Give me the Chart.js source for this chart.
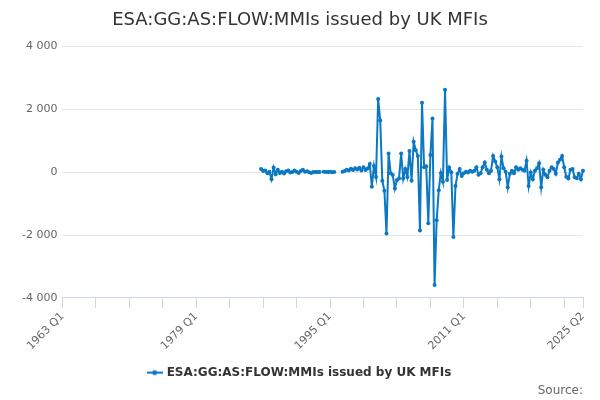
<!DOCTYPE html>
<html><head><meta charset="utf-8">
<script src="https://cdn.jsdelivr.net/npm/chart.js@4.4.1/dist/chart.umd.min.js"></script>
<style>html,body{margin:0;padding:0;background:#fff}#wrap{width:600px;height:400px;position:relative}</style>
</head><body><div id="wrap"><canvas id="c"></canvas></div>
<script>
const seriesName = 'ESA:GG:AS:FLOW:MMIs issued by UK MFIs';
const sourceText = 'Source:';
const firstYear = 1963;
const lastYear = 2025;
const lastQuarter = 2;
const dataStart = '1986 Q4';
// quarterly values from 1986 Q4 to 2025 Q2 (null = missing)
const values = [
  100,                      // 1986
  40, 60, -30, 20,          // 1987
  -220, 150, -60, 80,       // 1988
  -20, 20, -40, 30,         // 1989
  60, -10, 10, 60,          // 1990
  20, -20, 40, 80,          // 1991
  20, 30, 0, -20,           // 1992
  10, 10, 10, 10,           // 1993
  null, 20, 10, 10,         // 1994
  20, 0, 10, null,          // 1995
  null, null, 20, 40,       // 1996
  80, 60, 110, 70,          // 1997
  130, 90, 140, 60,         // 1998
  160, 75, 120, 260,        // 1999
  -460, 200, -150, 2330,    // 2000
  1650, -270, -590, -1950,  // 2001
  600, -30, -90, -520,      // 2002
  -250, -200, 600, -200,    // 2003
  100, -150, 680, -270,     // 2004
  970, 700, 520, -1850,     // 2005
  2210, 160, 190, -1620,    // 2006
  550, 1710, -3590, -1530,  // 2007
  -570, -20, -300, 2630,    // 2008
  -250, 150, 0, -2060,      // 2009
  -440, -50, 100, -120,     // 2010
  -30, 20, -10, 50,         // 2011
  20, 50, 160, -80,         // 2012
  -30, 160, 310, 80,        // 2013
  -30, 50, 520, 340,        // 2014
  160, -220, 500, 130,      // 2015
  20, -480, -50, 50,        // 2016
  -30, 160, 80, 130,        // 2017
  80, 50, 370, -440,        // 2018
  -10, -220, 50, 130,       // 2019
  290, -480, 80, -80,       // 2020
  -160, 50, 160, 100,       // 2021
  -50, 310, 400, 520,       // 2022
  160, -140, -200, 80,      // 2023
  100, -160, -190, -50,     // 2024
  -220, 50                  // 2025
];
const yMin = -4000;
const yMax = 4000;
const yStep = 2000;
const labelledTicks = ['1963 Q1', '1979 Q1', '1995 Q1', '2011 Q1', '2025 Q2'];
const tickMarkEvery = 16;

const lineColor = '#0a78c2';

const categories = [];
for (let y = firstYear; y <= lastYear; y++) {
  for (let q = 1; q <= 4; q++) {
    if (y === lastYear && q > lastQuarter) break;
    categories.push(y + ' Q' + q);
  }
}
const startIdx = categories.indexOf(dataStart);
const seriesData = categories.map((c, i) => i < startIdx ? null : (values[i - startIdx] === undefined ? null : values[i - startIdx]));
const lastIdx = categories.length - 1;

const sym = document.createElement('canvas');
sym.width = 16; sym.height = 10;
const sc = sym.getContext('2d');
sc.strokeStyle = lineColor; sc.lineWidth = 2;
sc.beginPath(); sc.moveTo(0, 5); sc.lineTo(16, 5); sc.stroke();
sc.fillStyle = lineColor; sc.beginPath(); sc.arc(8, 5, 2.5, 0, Math.PI * 2); sc.fill();

const fmt = v => String(v).replace(/\B(?=(\d{3})+(?!\d))/g, ' ');

const legendShift = {
  id: 'legendShift',
  afterLayout(chart) {
    const l = chart.legend;
    if (l) { l.top += 5; l.bottom += 5; }
  }
};

new Chart(document.getElementById('c'), {
  type: 'line',
  data: {
    labels: categories,
    datasets: [{
      label: seriesName,
      data: seriesData,
      borderColor: lineColor,
      backgroundColor: lineColor,
      borderWidth: 2,
      pointRadius: 2,
      pointBorderWidth: 0,
      pointBackgroundColor: lineColor,
      tension: 0,
      spanGaps: false
    }]
  },
  plugins: [legendShift],
  options: {
    responsive: true,
    maintainAspectRatio: false,
    animation: false,
    layout: { padding: { left: 17, right: 17, top: 4, bottom: 0 } },
    scales: {
      x: {
        type: 'category',
        offset: false,
        afterFit: s => { s.paddingLeft = 0; s.paddingRight = 0; },
        border: { color: '#ccd6eb', width: 1 },
        grid: {
          drawOnChartArea: false,
          drawTicks: true,
          tickLength: 10,
          color: ctx => (ctx.index % tickMarkEvery === 0 || ctx.index === lastIdx) ? '#ccd6eb' : 'rgba(0,0,0,0)'
        },
        ticks: {
          autoSkip: false,
          maxRotation: 45,
          minRotation: 45,
          padding: 2,
          color: '#666',
          font: { family: 'DejaVu Sans', size: 11 },
          callback: (v, i) => labelledTicks.includes(categories[i]) ? categories[i] : ''
        }
      },
      y: {
        min: yMin,
        max: yMax,
        border: { display: false },
        grid: { color: '#e6e6e6', drawTicks: false },
        ticks: {
          stepSize: yStep,
          padding: 5,
          color: '#666',
          font: { family: 'DejaVu Sans', size: 11 },
          callback: v => fmt(v)
        }
      }
    },
    plugins: {
      title: {
        display: true,
        text: seriesName,
        color: '#333',
        font: { family: 'DejaVu Sans', size: 18, weight: 'normal' },
        padding: { top: 6, bottom: 15 }
      },
      subtitle: {
        display: true,
        text: sourceText,
        position: 'bottom',
        align: 'end',
        color: '#666',
        font: { family: 'DejaVu Sans', size: 12, weight: 'normal' },
        padding: { top: 0, bottom: 2 }
      },
      legend: {
        position: 'bottom',
        labels: {
          usePointStyle: true,
          color: '#333',
          font: { family: 'DejaVu Sans', size: 12, weight: 'bold' },
          padding: 7,
          generateLabels: chart => [{
            text: seriesName,
            pointStyle: sym,
            fillStyle: lineColor,
            strokeStyle: lineColor,
            lineWidth: 0,
            hidden: false,
            datasetIndex: 0,
            fontColor: '#333'
          }]
        }
      },
      tooltip: { enabled: false }
    }
  }
});
</script>
</body></html>
